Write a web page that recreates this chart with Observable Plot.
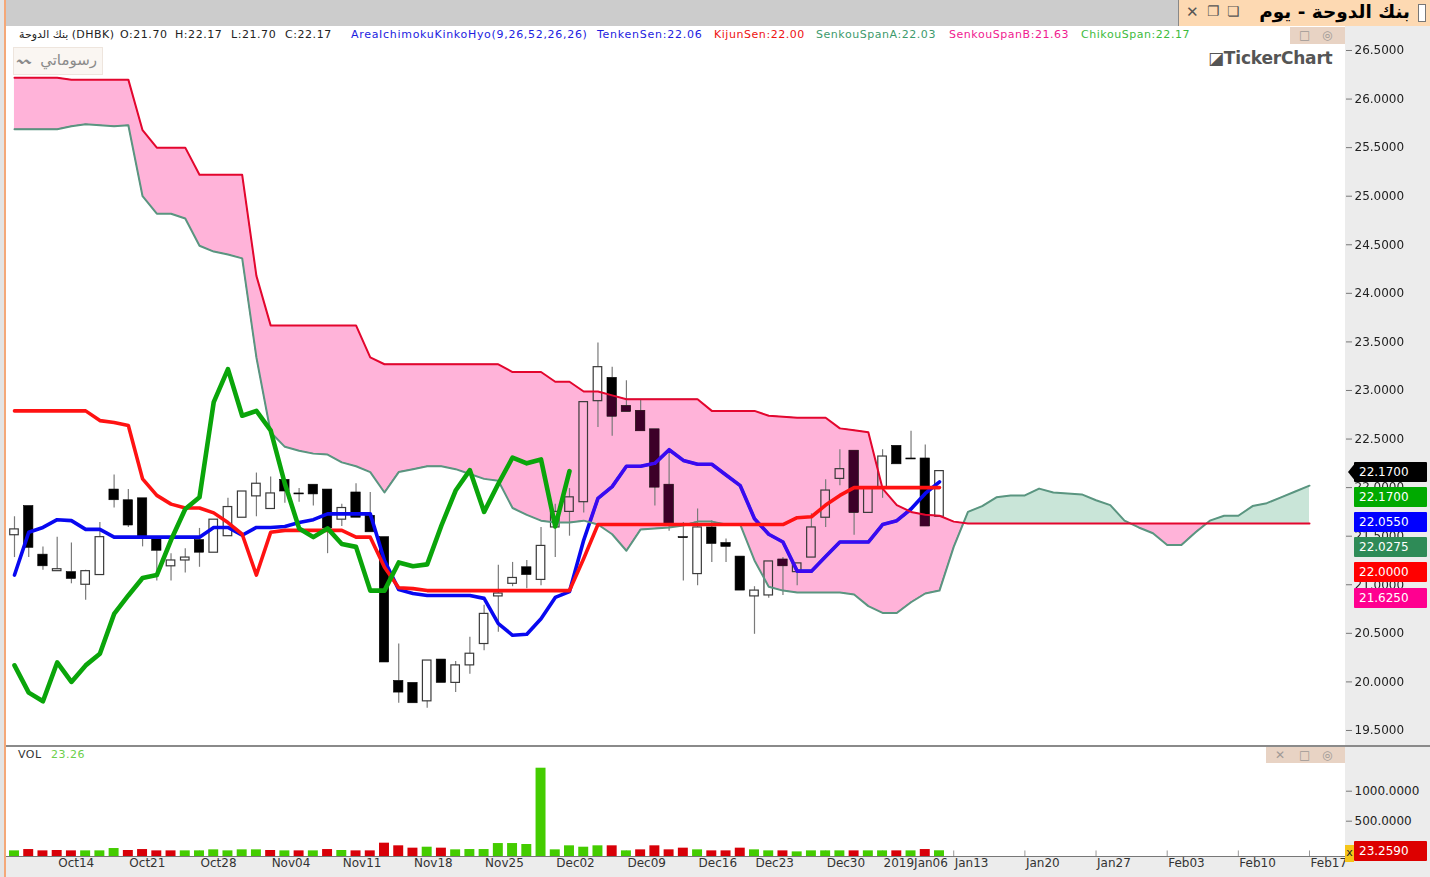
<!DOCTYPE html>
<html><head><meta charset="utf-8">
<script src="https://cdn.jsdelivr.net/npm/d3@7"></script>
<script src="https://cdn.jsdelivr.net/npm/@observablehq/plot@0.6"></script>
<style>
html,body{margin:0;padding:0;width:1430px;height:877px;overflow:hidden;background:#fff;font-family:"DejaVu Sans",sans-serif}
.a{position:absolute;white-space:nowrap}
.leg{top:27px;font-size:11px;letter-spacing:.55px;line-height:16px;color:#222}
.tag{left:1354px;width:73px;height:20px;line-height:20px;color:#fff;font-size:12px;text-align:left;text-indent:5px;z-index:5;border-radius:1px}
svg{position:absolute;left:0;overflow:visible}
</style></head><body>
<div id="chrome"></div>
<script>
const open_=[21.51,21.81,21.31,21.14,21.13,21.00,21.10,21.98,21.87,21.89,21.47,21.19,21.25,21.46,21.33,21.50,21.69,21.91,21.78,22.08,21.94,22.03,21.98,21.67,21.95,21.71,21.49,20.01,19.99,19.80,20.23,19.99,20.17,20.39,20.88,21.01,21.18,21.05,21.59,21.75,21.85,22.89,23.13,22.84,22.79,22.60,22.03,21.49,21.11,21.59,21.43,21.29,20.88,20.89,21.26,21.13,21.28,21.69,22.09,22.38,21.74,21.99,22.43,22.30,22.30,21.70];
const close_=[21.57,21.38,21.19,21.16,21.06,21.14,21.49,21.87,21.61,21.49,21.35,21.25,21.28,21.33,21.67,21.80,21.96,22.04,21.94,21.96,21.93,21.93,21.58,21.79,21.69,21.54,20.20,19.89,19.78,20.22,19.99,20.17,20.29,20.70,20.91,21.07,21.10,21.40,21.75,21.90,22.88,23.24,22.73,22.78,22.58,22.00,21.63,21.48,21.59,21.42,21.39,20.94,20.94,21.24,21.19,21.22,21.59,21.97,22.19,21.74,21.99,22.32,22.24,22.29,21.60,22.17];
const high_=[21.70,21.81,21.39,21.49,21.43,21.15,21.64,22.13,21.98,21.89,21.47,21.32,21.37,21.58,21.67,21.89,21.96,22.15,22.11,22.08,21.99,22.03,21.98,21.83,22.04,21.95,21.49,20.39,19.99,20.22,20.23,20.21,20.46,20.79,21.20,21.23,21.25,21.59,21.83,21.99,22.88,23.49,23.24,23.10,22.90,22.60,22.35,21.64,21.78,21.66,21.47,21.29,20.98,21.24,21.28,21.22,21.73,22.08,22.39,22.38,21.99,22.39,22.43,22.58,22.44,22.17];
const low_=[21.28,21.28,21.15,21.14,21.01,20.84,21.10,21.79,21.59,21.39,21.04,21.04,21.12,21.18,21.33,21.50,21.69,21.70,21.78,21.84,21.85,21.81,21.32,21.60,21.69,21.54,20.20,19.78,19.78,19.73,19.99,19.89,20.08,20.32,20.51,20.98,20.96,20.99,21.28,21.50,21.74,22.62,22.53,22.78,22.58,21.81,21.55,21.04,20.99,21.23,21.23,20.94,20.49,20.86,20.89,20.99,21.28,21.59,22.02,21.51,21.74,21.89,22.24,22.29,21.60,21.70];
const tenkan=[21.10,21.54,21.59,21.67,21.66,21.57,21.57,21.49,21.49,21.49,21.49,21.49,21.49,21.49,21.59,21.59,21.51,21.59,21.59,21.60,21.64,21.67,21.73,21.73,21.73,21.73,21.25,20.95,20.91,20.89,20.89,20.89,20.89,20.86,20.60,20.48,20.49,20.65,20.87,20.93,21.46,21.89,22.01,22.22,22.22,22.25,22.39,22.28,22.24,22.24,22.13,22.02,21.68,21.52,21.44,21.14,21.14,21.29,21.44,21.44,21.44,21.62,21.66,21.78,21.94,22.06];
const kijun=[22.79,22.79,22.79,22.79,22.79,22.79,22.69,22.67,22.64,22.09,21.92,21.83,21.79,21.79,21.74,21.64,21.52,21.10,21.54,21.56,21.56,21.56,21.56,21.56,21.49,21.49,21.18,20.97,20.96,20.94,20.94,20.94,20.94,20.94,20.94,20.94,20.94,20.94,20.94,20.94,21.27,21.62,21.62,21.62,21.62,21.62,21.62,21.62,21.62,21.62,21.62,21.62,21.62,21.62,21.62,21.69,21.70,21.82,21.92,22.00,22.00,22.00,22.00,22.00,22.00,22.00];
const chikou=[20.17,19.89,19.80,20.20,20.00,20.17,20.29,20.70,20.89,21.07,21.10,21.46,21.78,21.90,22.88,23.22,22.74,22.79,22.59,22.04,21.58,21.49,21.58,21.42,21.39,20.94,20.94,21.23,21.19,21.21,21.61,21.97,22.18,21.75,22.04,22.31,22.25,22.29,21.60,22.17];
const spanB=[26.22,26.22,26.22,26.22,26.20,26.20,26.20,26.20,26.20,25.68,25.50,25.50,25.50,25.22,25.22,25.22,25.22,24.18,23.67,23.67,23.67,23.67,23.67,23.67,23.67,23.34,23.27,23.27,23.27,23.27,23.27,23.27,23.27,23.27,23.27,23.19,23.19,23.19,23.09,23.09,22.99,22.99,22.95,22.91,22.91,22.91,22.91,22.91,22.91,22.79,22.79,22.79,22.79,22.74,22.73,22.72,22.72,22.72,22.61,22.59,22.57,21.99,21.82,21.75,21.72,21.71,21.65,21.63,21.63,21.63,21.63,21.63,21.63,21.63,21.63,21.63,21.63,21.63,21.63,21.63,21.63,21.63,21.63,21.63,21.63,21.63,21.63,21.63,21.63,21.63,21.63,21.63];
const spanA=[25.69,25.69,25.69,25.69,25.72,25.74,25.73,25.72,25.73,25.00,24.82,24.82,24.77,24.49,24.43,24.40,24.36,23.34,22.57,22.42,22.38,22.35,22.34,22.26,22.22,22.16,21.95,22.16,22.19,22.22,22.22,22.19,22.14,22.09,22.07,21.79,21.72,21.66,21.64,21.64,21.66,21.62,21.52,21.35,21.57,21.58,21.59,21.61,21.65,21.65,21.62,21.62,21.25,20.98,20.94,20.92,20.92,20.92,20.92,20.90,20.78,20.71,20.71,20.82,20.91,20.94,21.39,21.75,21.81,21.90,21.92,21.92,21.99,21.95,21.94,21.93,21.87,21.82,21.66,21.59,21.53,21.41,21.41,21.54,21.66,21.71,21.71,21.81,21.84,21.90,21.96,22.02];
const volume=[22,44,22,28,22,22,22,61,28,44,22,22,22,22,39,22,39,39,28,22,22,22,44,28,22,22,150,106,67,83,67,39,44,44,144,144,128,1400,39,106,83,106,106,22,39,106,39,67,39,22,22,67,39,22,22,5,22,22,22,22,22,22,22,22,44,23.26];
const volUp=[1,0,0,0,0,1,1,1,0,0,0,0,1,1,1,1,1,1,0,1,0,1,0,1,0,0,0,0,0,1,0,1,1,1,1,1,1,1,1,1,1,1,0,1,0,0,0,0,1,0,0,0,1,1,0,1,1,1,1,0,1,1,0,1,0,1];
const dateTicks=[3,8,13,18,23,28,33,38,43,48,52,57,61,66,71,76,81,86,91];
const dateLabels=["Oct14","Oct21","Oct28","Nov04","Nov11","Nov18","Nov25","Dec02","Dec09","Dec16","Dec23","Dec30","2019Jan06","Jan13","Jan20","Jan27","Feb03","Feb10","Feb17"];
const priceTicks=[19.5,20,20.5,21,21.5,22,22.5,23,23.5,24,24.5,25,25.5,26,26.5];
const volTicks=[500,1000];
const xDomain=[-0.632,93.53];
const priceDomain=[19.335,26.747];
const volDomain=[-72,1762];

const candles=open_.map((o,i)=>({i,open:o,close:close_[i],high:high_[i],low:low_[i]}));
const up=candles.filter(d=>d.close>=d.open), down=candles.filter(d=>d.close<d.open);
const series=(arr)=>arr.map((v,i)=>({i,v}));
// cloud rows, with the points where the two spans cross
const cloud=[];
spanA.forEach((a,i)=>{
  const b=spanB[i];
  cloud.push({i,a,b});
  if(i<spanA.length-1){
    const d0=b-a,d1=spanB[i+1]-spanA[i+1];
    if(d0*d1<0){const t=d0/(d0-d1);const v=a+t*(spanA[i+1]-a);cloud.push({i:i+t,a:v,b:v});}
  }
});
const top_=d=>Math.max(d.a,d.b);
const bw=0.33;
const main=Plot.plot({
  width:1430,height:720,marginLeft:5,marginRight:85,marginTop:0,marginBottom:0,
  x:{domain:xDomain,axis:null},y:{domain:priceDomain,axis:null},
  style:{background:"transparent",fontFamily:"DejaVu Sans",fontSize:"12px",color:"#222",overflow:"visible"},
  marks:[
    Plot.areaY(cloud,{x:"i",y1:"a",y2:top_,fill:"#ffb3d9"}),
    Plot.areaY(cloud,{x:"i",y1:"b",y2:top_,fill:"#c9e5d8"}),
    Plot.ruleX(candles,{x:"i",y1:d=>Math.max(d.open,d.close),y2:"high",stroke:"#7a7a7a",strokeWidth:1.2}),
    Plot.ruleX(candles,{x:"i",y1:d=>Math.min(d.open,d.close),y2:"low",stroke:"#7a7a7a",strokeWidth:1.2}),
    Plot.rect(up,{x1:d=>d.i-bw+0.03,x2:d=>d.i+bw-0.03,y1:"open",y2:"close",fill:"none",stroke:"#3a3a3a",strokeWidth:1.2}),
    Plot.rect(down,{x1:d=>d.i-bw,x2:d=>d.i+bw,y1:"open",y2:"close",fill:"#000",stroke:"#000",strokeWidth:.6}),
    Plot.line(series(tenkan),{x:"i",y:"v",stroke:"#0808f0",strokeWidth:3.6,strokeLinejoin:"round"}),
    Plot.areaY(cloud,{x:"i",y1:"a",y2:top_,fill:"#3c0028",mixBlendMode:"lighten"}),
    Plot.line(series(spanA),{x:"i",y:"v",stroke:"#5a9580",strokeWidth:2}),
    Plot.line(series(spanB),{x:"i",y:"v",stroke:"#e3062e",strokeWidth:2}),
    Plot.line(series(kijun),{x:"i",y:"v",stroke:"#ff1212",strokeWidth:3.6,strokeLinejoin:"round"}),
    Plot.line(series(chikou),{x:"i",y:"v",stroke:"#0aa50a",strokeWidth:4.6,strokeLinejoin:"round"}),
    Plot.axisY({anchor:"right",label:null,ticks:priceTicks,tickFormat:d3.format(".4f"),tickSize:6,tickPadding:3,fontSize:12,stroke:"#777",color:"#222"})
  ]
});
main.style.top="26px";main.style.zIndex=2;
const volRows=volume.map((v,i)=>({i,v,up:volUp[i]}));
const vol=Plot.plot({
  width:1430,height:131,marginLeft:5,marginRight:85,marginTop:0,marginBottom:21,
  x:{domain:xDomain,axis:null},y:{domain:volDomain,axis:null},
  style:{background:"transparent",fontFamily:"DejaVu Sans",fontSize:"12px",color:"#222",overflow:"visible"},
  marks:[
    Plot.ruleX(dateTicks,{x:d=>d,y1:-72,y2:20,stroke:"#999",strokeWidth:1}),
    Plot.rect(volRows,{x1:d=>d.i-0.35,x2:d=>d.i+0.35,y1:-72,y2:"v",fill:d=>d.up?"#44cc00":"#d80008"}),
    Plot.axisX({anchor:"bottom",label:null,ticks:dateTicks,tickFormat:d=>dateLabels[dateTicks.indexOf(d)],tickSize:0,tickPadding:2,textAnchor:"start",dx:1,fontSize:12,color:"#333"}),
    Plot.axisY({anchor:"right",label:null,ticks:volTicks,tickFormat:d3.format(".4f"),tickSize:6,tickPadding:3,dy:-1,fontSize:12,stroke:"#777",color:"#222"})
  ]
});
vol.style.top="746px";vol.style.zIndex=3;

const c=document.getElementById("chrome");
const el=(css,txt,cls)=>{const d=document.createElement("div");d.className="a "+(cls||"");d.style.cssText=css;if(txt!=null)d.textContent=txt;c.appendChild(d);return d;};
// panels
el("left:0;top:0;width:4px;height:877px;background:#e4e4e4");
el("left:4px;top:0;width:1.5px;height:877px;background:#f4a878;z-index:6");
el("left:5px;top:0;width:1175px;height:26px;background:#cccccc");
el("left:1178px;top:0;width:252px;height:26px;background:#fdd9b2;border-left:1px solid #888;box-sizing:border-box");
el("left:1345px;top:26px;width:85px;height:851px;background:#ececec");
el("left:5px;top:856px;width:1425px;height:21px;background:#ececec");
el("left:5px;top:745px;width:1425px;height:2px;background:#8a8a8a;z-index:4");
el("left:5px;top:855.5px;width:1340px;height:1.5px;background:#777;z-index:4");
c.appendChild(main);c.appendChild(vol);
// title bar
el("left:1186px;top:3px;font-size:15px;font-weight:bold;color:#555","✕");
el("left:1207px;top:3px;font-size:14px;color:#555","❐");
el("left:1227px;top:3px;font-size:14px;color:#555","❏");
el("right:20px;top:-3px;font-size:18.5px;font-weight:bold;color:#000;direction:rtl;line-height:30px","بنك الدوحة - يوم");
el("left:1418px;top:4px;width:6px;height:16px;background:#fff;border:1px solid #777");
// legend line
const legend=[
 ["بنك الدوحة (DHBK)",19,"#222",.55],["O:21.70",120,"#222",.55],["H:22.17",175,"#222",.55],["L:21.70",231,"#222",.55],["C:22.17",285,"#222",.55],
 ["AreaIchimokuKinkoHyo(9,26,52,26,26)",351,"#1c1ce0",.7],["TenkenSen:22.06",597,"#1c1ce0",.75],["KijunSen:22.00",714,"#ee1111",.55],
 ["SenkouSpanA:22.03",816,"#3d9a6c",.55],["SenkouSpanB:21.63",949,"#f01a90",.55],["ChikouSpan:22.17",1081,"#3dbb3d",.55]];
legend.forEach(([t,l,col,ls])=>el(`left:${l}px;color:${col};letter-spacing:${ls}px;z-index:6`,t,"leg"));
// drawings button, watermark, panel buttons
el("left:13px;top:47px;width:90px;height:28px;background:#faf6f2;border:1px solid #eee5dd;box-sizing:border-box;z-index:6");
el("left:17px;top:52px;color:#8a8a8a;font-size:14px;line-height:18px;z-index:7","〰");
el("right:1333px;top:50px;color:#8a8a8a;font-size:15px;line-height:20px;z-index:7","رسوماتي");
el("left:1208px;top:48px;font-size:17px;font-weight:bold;color:#555;font-family:'DejaVu Sans';z-index:6;letter-spacing:-.2px","◪TickerChart");
el("left:1290px;top:27px;width:55px;height:17px;background:#e8d3c4;z-index:6");
el("left:1266px;top:747px;width:79px;height:16px;background:#e8d3c4;z-index:6");
[["□",1299,27],["◎",1322,27],["✕",1275,747],["□",1299,747],["◎",1322,747]]
 .forEach(([t,l,y])=>el(`left:${l}px;top:${y}px;color:#a09a96;font-size:12px;line-height:16px;z-index:7`,t));
el("left:18px;top:747px;font-size:11px;letter-spacing:.5px;color:#333;z-index:6;line-height:16px","VOL");
el("left:51px;top:747px;font-size:11px;letter-spacing:.5px;color:#6ccf4a;z-index:6;line-height:16px","23.26");
// last-value tags
[["22.1700",462,"#000"],["22.1700",487,"#00aa00"],["22.0550",512,"#0000ff"],["22.0275",537,"#2e8b57"],["22.0000",562,"#ff0000"],["21.6250",588,"#ff0090"]]
 .forEach(([t,y,col])=>el(`top:${y}px;background:${col}`,t,"tag"));
el("left:1348px;top:462px;width:8px;height:20px;background:#000;clip-path:polygon(0 50%,100% 0,100% 100%);z-index:5");
el("left:1345px;top:845px;width:9px;height:17px;background:#f5c518;color:#222;font-size:11px;line-height:16px;text-align:center;z-index:6","x");
el("top:841px;background:#dd0000","23.2590","tag").style.zIndex=7;
</script>
</body></html>
